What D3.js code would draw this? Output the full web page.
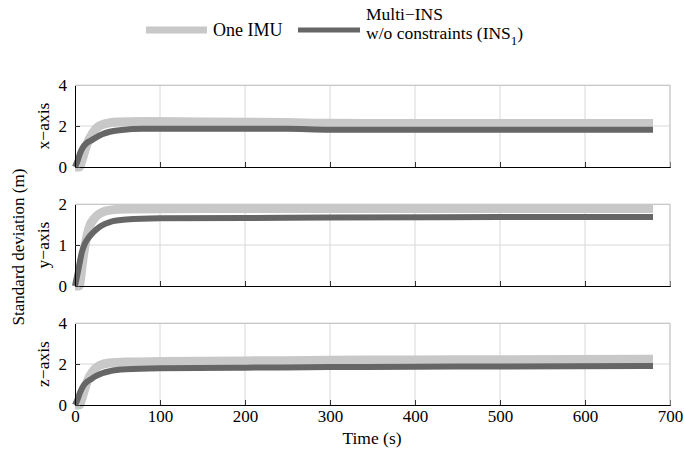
<!DOCTYPE html>
<html><head><meta charset="utf-8">
<script src="https://cdn.jsdelivr.net/npm/d3@7"></script>
<style>body{margin:0;background:#fff}svg text{font-family:"Liberation Serif","Tinos","Times New Roman","DejaVu Serif",serif !important;fill:#000}</style>
</head><body><svg id="c" width="684" height="455"></svg>
<script>
const seriesNames = ["One IMU", "Multi\u2212INS w/o constraints (INS1)"];
const panelLabels = ["x\u2212axis", "y\u2212axis", "z\u2212axis"];
const yMax = [4, 2, 4];
const yTicks = [[0,2,4],[0,1,2],[0,2,4]];
const xTicks = [0,100,200,300,400,500,600,700];
// [time, value]
const oneIMU_x = [[0,0],[5,0],[8,0.3],[12,0.85],[16,1.3],[20,1.6],[25,1.88],[30,2.03],[40,2.15],[50,2.2],[80,2.22],[150,2.2],[250,2.17],[300,2.13],[400,2.12],[500,2.12],[680,2.12]];
const multi_x  = [[0,0],[3,0.3],[6,0.68],[10,1.0],[14,1.18],[18,1.27],[25,1.45],[32,1.6],[41,1.72],[55,1.81],[80,1.86],[150,1.87],[250,1.86],[300,1.82],[400,1.82],[500,1.82],[680,1.82]];
const oneIMU_y = [[0,0],[5,0],[7,0.25],[9,0.6],[12,1.0],[15,1.3],[18,1.5],[21,1.6],[26,1.72],[32,1.8],[41,1.85],[60,1.88],[150,1.89],[300,1.89],[500,1.89],[680,1.89]];
const multi_y  = [[0,0],[3,0.3],[6,0.62],[8,0.82],[12,1.05],[16,1.18],[21,1.3],[30,1.46],[41,1.56],[60,1.62],[100,1.65],[200,1.66],[300,1.67],[500,1.68],[680,1.68]];
const oneIMU_z = [[0,0],[5,0],[8,0.3],[12,0.85],[16,1.3],[20,1.58],[25,1.82],[30,1.95],[40,2.05],[60,2.1],[100,2.12],[200,2.15],[300,2.18],[400,2.2],[500,2.21],[680,2.23]];
const multi_z  = [[0,0],[3,0.28],[6,0.62],[10,0.95],[14,1.13],[18,1.24],[25,1.42],[32,1.55],[41,1.65],[60,1.74],[100,1.79],[200,1.82],[300,1.85],[400,1.87],[500,1.88],[680,1.9]];
const panels = [[oneIMU_x, multi_x],[oneIMU_y, multi_y],[oneIMU_z, multi_z]];
const colors = ["#c8c8c8", "#666666"];
const widths = [9, 6];

const svg = d3.select("#c");
const L = 75, R = 670;
const tops = [85, 204, 323], H = 82;
const x = d3.scaleLinear().domain([0,700]).range([L,R]);

panels.forEach((pd, i) => {
  const y = d3.scaleLinear().domain([0,yMax[i]]).range([tops[i]+H, tops[i]]);
  const g = svg.append("g");
  g.selectAll(".vg").data(xTicks.slice(1)).enter().append("line")
    .attr("x1", d=>x(d)).attr("x2", d=>x(d)).attr("y1", tops[i]).attr("y2", tops[i]+H)
    .attr("stroke", "#d8d8d8").attr("stroke-width", 1);
  g.selectAll(".hg").data(yTicks[i].slice(1)).enter().append("line")
    .attr("x1", L).attr("x2", R).attr("y1", d=>y(d)).attr("y2", d=>y(d))
    .attr("stroke", "#d8d8d8").attr("stroke-width", 1);
  const line = d3.line().x(d=>x(d[0])).y(d=>y(d[1])).curve(d3.curveMonotoneX);
  pd.forEach((s, k) => {
    g.append("path").datum(s).attr("d", line).attr("fill","none")
      .attr("stroke", colors[k]).attr("stroke-width", widths[k]).attr("stroke-linecap","butt");
  });
  const ax = d3.axisBottom(x).tickValues(xTicks).tickSize(-5).tickFormat(i===2? d3.format("d") : "");
  const gx = g.append("g").attr("transform", `translate(0,${tops[i]+H})`).call(ax);
  gx.attr("font-family", null);
  gx.select(".domain").attr("stroke","#000");
  gx.selectAll(".tick line").attr("stroke","#333");
  gx.selectAll("text").attr("font-size", 17).attr("dy", "0.85em");
  const ay = d3.axisLeft(y).tickValues(yTicks[i]).tickSize(-5).tickFormat(d3.format("d"));
  const gy = g.append("g").attr("transform", `translate(${L},0)`).call(ay);
  gy.attr("font-family", null);
  gy.select(".domain").attr("stroke","#000");
  gy.selectAll(".tick line").attr("stroke","#333");
  gy.selectAll("text").attr("font-size", 17).attr("x", -8);
  g.append("line").attr("x1",L).attr("x2",R).attr("y1",tops[i]+0.5).attr("y2",tops[i]+0.5).attr("stroke","#c8c8c8");
  g.append("line").attr("x1",R).attr("x2",R).attr("y1",tops[i]).attr("y2",tops[i]+H).attr("stroke","#c8c8c8");
  g.append("text").attr("transform", `translate(49,${tops[i]+H/2}) rotate(-90)`)
    .attr("text-anchor","middle").attr("font-size",17.5).text(panelLabels[i]);
});

svg.append("text").attr("transform", "translate(24,247) rotate(-90)").attr("text-anchor","middle")
  .attr("font-size",17).text("Standard deviation (m)");
svg.append("text").attr("x", 372).attr("y", 444).attr("text-anchor","middle").attr("font-size",17.5).text("Time (s)");

const lg = svg.append("g");
lg.append("line").attr("x1",146).attr("x2",207).attr("y1",30).attr("y2",30).attr("stroke",colors[0]).attr("stroke-width",7);
lg.append("text").attr("x",213).attr("y",36).attr("font-size",18).text(seriesNames[0]);
lg.append("line").attr("x1",298).attr("x2",360).attr("y1",30).attr("y2",30).attr("stroke",colors[1]).attr("stroke-width",5);
lg.append("text").attr("x",366).attr("y",20).attr("font-size",17.5).text("Multi\u2212INS");
const t2 = lg.append("text").attr("x",366).attr("y",39).attr("font-size",17.5);
t2.append("tspan").text("w/o constraints (INS");
t2.append("tspan").attr("font-size",13).attr("dy",6).text("1");
t2.append("tspan").attr("dy",-6).text(")");
</script></body></html>
